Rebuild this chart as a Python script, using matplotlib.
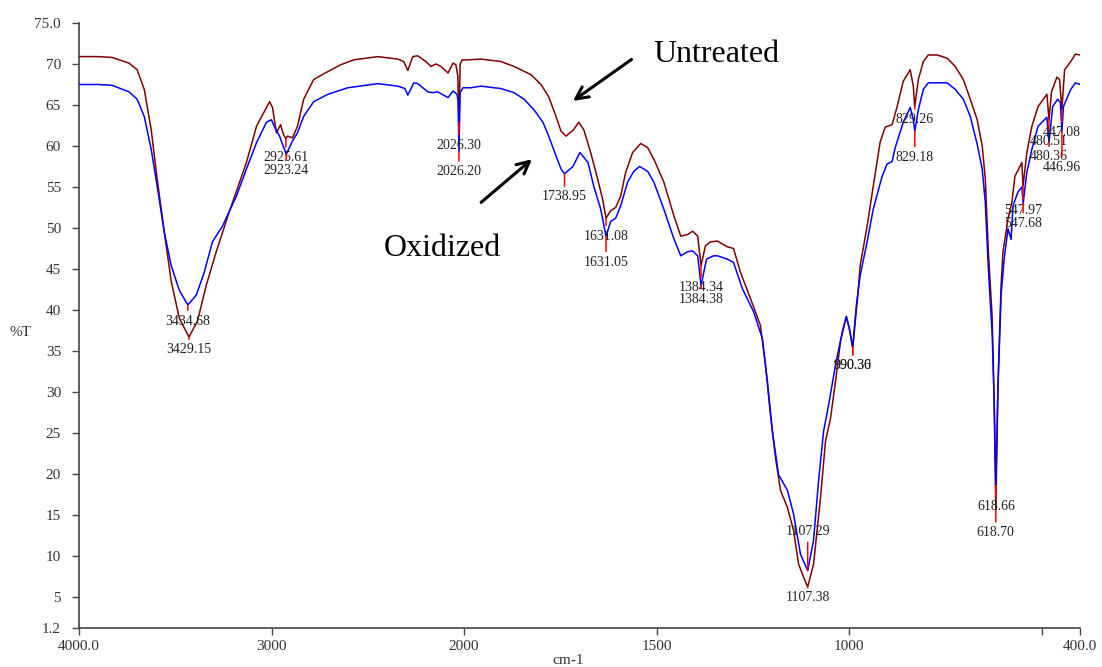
import numpy as np
import matplotlib
matplotlib.use("Agg")
from matplotlib import pyplot as plt

# FTIR transmittance of the two samples (wavenumber cm-1, %T)
wn_untreated = [4000, 3900, 3828, 3740, 3698, 3661, 3625, 3594, 3557, 3521, 3479, 3429.15, 3385, 3339,
                3287, 3219, 3130, 3078, 3010, 2995, 2974, 2953, 2938, 2925.61, 2917, 2891, 2865, 2833,
                2781, 2729, 2641, 2573, 2448, 2344, 2313, 2292, 2266, 2240, 2198, 2172, 2146, 2120,
                2083, 2057, 2042, 2032, 2026.30, 2020, 2010, 1990, 1956, 1904, 1870, 1826, 1800, 1780,
                1761, 1748, 1735, 1715, 1702, 1689, 1671, 1653, 1640, 1631.08, 1619, 1606, 1593, 1580,
                1562, 1541, 1523, 1507, 1481, 1455, 1437, 1419, 1406, 1393, 1384.34, 1373, 1360, 1342,
                1316, 1300, 1282, 1256, 1230, 1217, 1204, 1191, 1178, 1160, 1144, 1131, 1118, 1107.38,
                1092, 1074, 1061, 1048, 1035, 1022, 1007, 999, 990.30, 978, 971, 953, 937, 919, 906,
                888, 875, 859, 841, 833, 829.26, 820, 807, 794, 771, 745, 724, 703, 685, 667, 654, 646,
                638, 628, 623, 618.70, 613, 605, 600, 587, 577, 569, 556, 551, 547.97, 538, 525, 509,
                486, 480.51, 474, 460, 453, 447.08, 440, 424, 412, 400]
t_untreated = [70.9, 70.9, 70.8, 70.1, 69.3, 66.9, 62.0, 56.0, 49.5, 43.5, 39.0, 36.7, 38.6, 43.0,
               47.1, 52.0, 58.0, 62.4, 65.4, 64.7, 61.6, 62.6, 61.4, 60.9, 61.2, 61.0, 62.4, 65.7,
               68.1, 68.8, 69.9, 70.5, 70.9, 70.6, 70.3, 69.2, 70.9, 71.0, 70.3, 69.7, 70.0, 69.7,
               68.9, 70.1, 69.9, 68.5, 62.9, 70.0, 70.5, 70.5, 70.6, 70.3, 69.7, 68.7, 67.5, 66.0,
               63.6, 61.8, 61.2, 62.0, 62.9, 62.0, 59.2, 56.0, 53.5, 51.2, 52.1, 52.5, 53.9, 56.8,
               59.2, 60.3, 59.8, 58.4, 55.6, 51.5, 49.0, 49.2, 49.6, 49.0, 45.4, 47.8, 48.3, 48.4,
               47.7, 47.5, 44.6, 41.4, 38.1, 33.3, 27.2, 22.0, 18.0, 15.9, 13.1, 9.0, 7.4, 6.2,
               9.0, 17.1, 24.0, 26.8, 31.3, 36.2, 39.2, 37.7, 35.3, 41.4, 45.4, 50.2, 55.1, 60.5, 62.3,
               62.6, 64.8, 67.9, 69.3, 67.3, 64.8, 68.1, 70.3, 71.1, 71.1, 70.7, 69.7, 68.1, 65.7, 63.2, 60.0, 56.0,
               47.1, 39.0, 28.9, 15.5, 30.8, 43.0, 47.1, 51.1, 53.1, 56.3, 57.5, 58.0, 55.1, 59.2, 62.4, 64.8,
               66.3, 63.2, 66.6, 68.4, 68.1, 64.4, 69.3, 70.3, 71.2, 71.1]

wn_oxidized = [4000, 3900, 3828, 3740, 3698, 3661, 3625, 3594, 3557, 3521, 3479, 3434.68, 3391, 3349,
               3307, 3255, 3182, 3130, 3078, 3026, 3000, 2984, 2958, 2943, 2923.24, 2891, 2865, 2833,
               2781, 2708, 2604, 2448, 2344, 2307, 2292, 2261, 2240, 2188, 2162, 2136, 2083, 2057,
               2036, 2031, 2026.20, 2020, 2005, 1982, 1956, 1904, 1870, 1844, 1818, 1795, 1780, 1761,
               1748, 1738.95, 1717, 1699, 1678, 1663, 1645, 1631.05, 1619, 1606, 1593, 1575, 1559,
               1544, 1523, 1507, 1481, 1455, 1437, 1419, 1406, 1393, 1384.38, 1370, 1352, 1342, 1316,
               1300, 1277, 1248, 1225, 1212, 1199, 1183, 1160, 1144, 1126, 1107.29, 1092, 1079, 1066,
               1053, 1035, 1017, 1007, 999, 990.36, 981, 971, 953, 937, 914, 901, 888, 880, 859, 841,
               833, 829.18, 820, 807, 794, 763, 745, 724, 703, 685, 667, 654, 646, 638, 628, 623,
               618.66, 613, 605, 597, 587, 579, 574, 561, 551, 547.68, 538, 525, 509, 486, 480.36,
               471, 458, 451, 446.96, 443, 424, 412, 400]
t_oxidized = [67.5, 67.5, 67.4, 66.6, 65.7, 63.6, 59.6, 55.1, 49.5, 45.4, 42.4, 40.6, 41.8, 44.6,
              48.3, 50.2, 53.9, 57.2, 60.4, 62.9, 63.2, 62.3, 61.2, 60.2, 59.0, 60.6, 61.6, 63.6,
              65.4, 66.3, 67.1, 67.6, 67.3, 67.0, 66.2, 67.7, 67.6, 66.6, 66.5, 66.6, 65.9, 66.7,
              66.3, 65.5, 59.3, 66.5, 67.1, 67.1, 67.3, 67.0, 66.5, 65.7, 64.4, 62.9, 61.2, 58.8,
              57.2, 56.6, 57.5, 59.2, 58.0, 55.1, 52.3, 49.0, 50.8, 51.2, 52.7, 55.6, 56.9,
              57.5, 56.9, 55.6, 52.3, 48.7, 46.6, 47.1, 47.2, 46.6, 43.0, 46.2, 46.6, 46.6, 46.2,
              45.8, 42.6, 39.8, 36.5, 31.3, 25.2, 19.9, 18.0, 15.1, 10.2, 8.2, 11.9, 19.2, 25.2,
              28.4, 33.3, 37.4, 39.2, 37.7, 35.5, 40.5, 44.2, 48.3, 52.3, 56.3, 57.8, 58.1, 59.8, 62.9, 64.7,
              63.2, 61.8, 64.4, 66.9, 67.7, 67.7, 67.7, 66.9, 65.7, 63.6, 60.2, 57.2, 53.1, 45.0, 36.9, 28.9,
              18.6, 30.8, 41.8, 46.2, 49.9, 48.6, 52.7, 54.4, 55.0, 53.0, 56.8, 59.6, 62.4, 63.5, 60.5,
              64.8, 65.7, 65.3, 61.8, 64.8, 66.9, 67.7, 67.5]

# picked peaks: wavenumber, and vertical offset of the label below the tip (pixels)
peaks_untreated = [3429.15, 2925.61, 2026.30, 1631.08, 1384.34, 1107.38, 990.30, 829.26,
                   618.70, 547.97, 480.51, 447.08]
label_dy_untreated = [13, 19, 23, 18, 22, 10, 17, 13, 22, 24, 22, 23]
peaks_oxidized = [3434.68, 2923.24, 2026.20, 1738.95, 1631.05, 1384.38, 1107.29, 990.36,
                  829.18, 618.66, 547.68, 480.36, 446.96]
label_dy_oxidized = [16, 16, 20, 23, 26, 14, -39, 19, 26, 21, 20, 15, 36]

x_ticks = [4000, 3000, 2000, 1500, 1000, 500, 400]
x_ticklabels = ["4000.0", "3000", "2000", "1500", "1000", "", "400.0"]
y_ticks = [75, 70, 65, 60, 55, 50, 45, 40, 35, 30, 25, 20, 15, 10, 5, 1.2]
y_ticklabels = ["75.0"] + [str(v) for v in y_ticks[1:-1]] + ["1.2"]

plt.rcParams["font.family"] = ["Liberation Serif", "DejaVu Serif"]


# spectrometer-style axis: scale doubles below 2000 cm-1
def fwd(w):
    w = np.asarray(w, dtype=float)
    return np.where(w >= 2000, w, 2 * w - 2000)


def inv(u):
    u = np.asarray(u, dtype=float)
    return np.where(u >= 2000, u, (u + 2000) / 2)


fig = plt.figure(figsize=(11.02, 6.67), dpi=100)
ax = fig.add_axes([79 / 1102, 1 - 628 / 667, 1001 / 1102, 605 / 667])
ax.set_xscale("function", functions=(fwd, inv))

ax.plot(wn_untreated, t_untreated, color="#800000", lw=1.1, zorder=3)
ax.plot(wn_oxidized, t_oxidized, color="#0000ff", lw=1.1, zorder=3)

ax.set_xlim(4000, 400)
ax.set_ylim(1.2, 75)


def mark_peaks(wns, xs, ys, dys):
    for w, dy in zip(wns, dys):
        t = np.interp(w, xs[::-1], ys[::-1])
        ax.annotate(f"{w:.2f}", xy=(w, t), xytext=(0, -dy), textcoords="offset pixels",
                    ha="center", va="center", fontsize=10, color="#222222", zorder=5,
                    arrowprops=dict(arrowstyle="-", color="red", lw=1.1,
                                    shrinkA=1, shrinkB=0))


mark_peaks(peaks_untreated, wn_untreated, t_untreated, label_dy_untreated)
mark_peaks(peaks_oxidized, wn_oxidized, t_oxidized, label_dy_oxidized)

# sample labels with arrows
ax.text(1507, 71.2, "Untreated", fontsize=23, ha="left", va="center")
ax.annotate("", xy=(1723, 65.3), xytext=(1559, 70.75),
            arrowprops=dict(arrowstyle="->", color="black", lw=2.2, mutation_scale=22))
ax.text(2417, 47.45, "Oxidized", fontsize=23, ha="left", va="center")
ax.annotate("", xy=(1818, 58.6), xytext=(1961, 52.9),
            arrowprops=dict(arrowstyle="->", color="black", lw=2.2, mutation_scale=22))

ax.set_xticks(x_ticks)
ax.set_xticklabels(x_ticklabels)
ax.set_yticks(y_ticks)
ax.set_yticklabels(y_ticklabels)
ax.minorticks_off()
ax.tick_params(axis="both", direction="out", length=5, width=1, color="#444444",
               labelcolor="#333333", labelsize=11)
ax.tick_params(axis="y", pad=8)
ax.tick_params(axis="x", pad=4)

for side in ["top", "right"]:
    ax.spines[side].set_visible(False)
for side in ["left", "bottom"]:
    ax.spines[side].set_color("#444444")
    ax.spines[side].set_linewidth(1.2)

fig.text(10 / 1102, 1 - 333 / 667, "%T", fontsize=11, color="#333333", ha="left", va="center")
fig.text(568 / 1102, 1 - 660 / 667, "cm-1", fontsize=11, color="#333333", ha="center", va="center")

fig.savefig("out.png", dpi=100)
